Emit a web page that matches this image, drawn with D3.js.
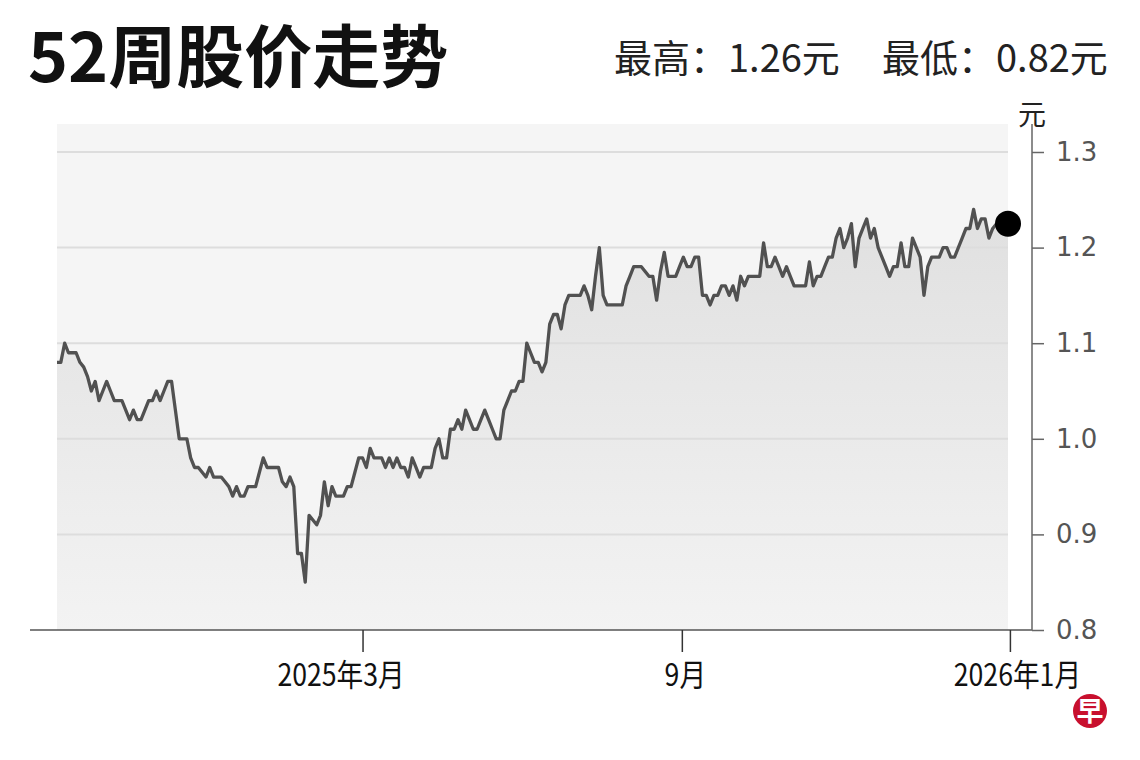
<!DOCTYPE html>
<html><head><meta charset="utf-8">
<script src="https://cdn.jsdelivr.net/npm/d3@7"></script>
<style>body{margin:0;background:#fff;} svg{display:block;}</style>
</head><body><svg id="c" width="1140" height="760"></svg>
<script>
const prices = [
1.08,1.08,1.10,1.09,1.09,1.09,1.08,1.075,1.065,1.05,
1.06,1.04,1.05,1.06,1.05,1.04,1.04,1.04,1.03,1.02,
1.03,1.02,1.02,1.03,1.04,1.04,1.05,1.04,1.05,1.06,
1.06,1.03,1.00,1.00,1.00,0.98,0.97,0.97,0.965,0.96,
0.97,0.96,0.96,0.96,0.955,0.95,0.94,0.95,0.94,0.94,
0.95,0.95,0.95,0.965,0.98,0.97,0.97,0.97,0.97,0.955,
0.95,0.96,0.95,0.88,0.88,0.85,0.92,0.915,0.91,0.92,
0.955,0.93,0.95,0.94,0.94,0.94,0.95,0.95,0.965,0.98,
0.98,0.97,0.99,0.98,0.98,0.98,0.97,0.98,0.97,0.98,
0.97,0.97,0.96,0.98,0.97,0.96,0.97,0.97,0.97,0.99,
1.00,0.98,0.98,1.01,1.01,1.02,1.01,1.03,1.02,1.01,
1.01,1.02,1.03,1.02,1.01,1.00,1.00,1.03,1.04,1.05,
1.05,1.06,1.06,1.10,1.09,1.08,1.08,1.07,1.08,1.12,
1.13,1.13,1.115,1.14,1.15,1.15,1.15,1.15,1.16,1.15,
1.135,1.17,1.20,1.15,1.14,1.14,1.14,1.14,1.14,1.16,
1.17,1.18,1.18,1.18,1.175,1.17,1.17,1.145,1.175,1.195,
1.17,1.17,1.17,1.18,1.19,1.18,1.18,1.19,1.19,1.15,
1.15,1.14,1.15,1.15,1.16,1.16,1.15,1.16,1.145,1.17,
1.16,1.17,1.17,1.17,1.17,1.205,1.18,1.18,1.19,1.18,
1.17,1.18,1.17,1.16,1.16,1.16,1.16,1.185,1.16,1.17,
1.17,1.18,1.19,1.19,1.21,1.22,1.20,1.21,1.225,1.18,
1.21,1.22,1.23,1.21,1.22,1.20,1.19,1.18,1.17,1.18,
1.18,1.205,1.18,1.18,1.21,1.20,1.19,1.15,1.18,1.19,
1.19,1.19,1.20,1.20,1.19,1.19,1.20,1.21,1.22,1.22,
1.24,1.22,1.23,1.23,1.21,1.22,1.225,1.22,1.225,1.225
];
const yTicks = [0.8, 0.9, 1.0, 1.1, 1.2, 1.3];
const xTickLabels = ["2025年3月", "9月", "2026年1月"];
const xTickIndex = [80, 163.6, 249.5];
const titleText = "52周股价走势";
const highText = "最高：1.26元";
const lowText = "最低：0.82元";
const unitText = "元";
const logoText = "早";

const svg = d3.select("#c");
const pLeft = 57, pRight = 1008, pTop = 124, pBottom = 630;
const axisX = 1032;
const labelShift = [-22, 3, 7];

const x = d3.scaleLinear().domain([0, prices.length - 1]).range([pLeft, pRight]);
const y = d3.scaleLinear().domain([0.8, 1.3]).range([pBottom, 152]);

const defs = svg.append("defs");
const grad = defs.append("linearGradient").attr("id", "g").attr("gradientUnits", "userSpaceOnUse")
  .attr("x1", 0).attr("x2", 0).attr("y1", y(1.24)).attr("y2", pBottom);
grad.append("stop").attr("offset", 0).attr("stop-color", "#e0e0e0");
grad.append("stop").attr("offset", 1).attr("stop-color", "#f3f3f3");

svg.append("rect").attr("x", pLeft).attr("y", pTop).attr("width", pRight - pLeft).attr("height", pBottom - pTop)
  .attr("fill", "#f5f5f5");

const area = d3.area().x((d, i) => x(i)).y0(pBottom).y1(d => y(d));
svg.append("path").datum(prices).attr("d", area).attr("fill", "url(#g)");

svg.append("g").selectAll("line").data(yTicks.filter(t => t > 0.8)).join("line")
  .attr("x1", pLeft).attr("x2", pRight).attr("y1", d => y(d)).attr("y2", d => y(d))
  .attr("stroke", "#dddddd").attr("stroke-width", 2);

const line = d3.line().x((d, i) => x(i)).y(d => y(d));
svg.append("path").datum(prices).attr("d", line).attr("fill", "none")
  .attr("stroke", "#515151").attr("stroke-width", 3.3).attr("stroke-linejoin", "round");

svg.append("circle").attr("cx", x(prices.length - 1)).attr("cy", y(prices[prices.length - 1]))
  .attr("r", 13).attr("fill", "#000");

svg.append("line").attr("x1", 30).attr("x2", axisX).attr("y1", pBottom).attr("y2", pBottom)
  .attr("stroke", "#555").attr("stroke-width", 1.5);
svg.append("line").attr("x1", axisX).attr("x2", axisX).attr("y1", pTop).attr("y2", pBottom)
  .attr("stroke", "#666").attr("stroke-width", 1.5);

const yAxis = d3.axisRight(y).tickValues(yTicks).tickSize(12).tickPadding(12).tickFormat(d3.format(".1f"));
const gy = svg.append("g").attr("transform", `translate(${axisX},0)`).call(yAxis);
gy.select(".domain").remove();
gy.selectAll(".tick line").attr("stroke", "#666").attr("stroke-width", 1.5);
gy.selectAll(".tick text").attr("fill", "#555").style("font-family", "DejaVu Sans").style("font-size", "26px");

svg.append("text").attr("x", axisX).attr("y", 125).attr("text-anchor", "middle")
  .style("font-family", "Noto Sans CJK SC").style("font-size", "28px").attr("fill", "#222").text(unitText);

const xAxis = d3.axisBottom(x).tickValues(xTickIndex).tickSize(22).tickPadding(12)
  .tickFormat((d, i) => xTickLabels[i]);
const gx = svg.append("g").attr("transform", `translate(0,${pBottom})`).call(xAxis);
gx.select(".domain").remove();
gx.selectAll(".tick line").attr("stroke", "#333").attr("stroke-width", 1.5);
gx.selectAll(".tick text").attr("fill", "#111").style("font-family", "Noto Sans CJK SC")
  .style("font-size", "31px").attr("transform", (d, i) => `translate(${labelShift[i]},0) scale(0.86,1)`);

svg.append("text").attr("x", 28).attr("y", 82).style("font-family", "Noto Sans CJK SC")
  .style("font-weight", 700).style("font-size", "68px").attr("fill", "#111").text(titleText);

svg.append("text").attr("x", 614).attr("y", 72).style("font-family", "Noto Sans CJK SC")
  .style("font-size", "38px").attr("fill", "#222").text(highText);
svg.append("text").attr("x", 882).attr("y", 72).style("font-family", "Noto Sans CJK SC")
  .style("font-size", "38px").attr("fill", "#222").text(lowText);

svg.append("circle").attr("cx", 1090).attr("cy", 711).attr("r", 17).attr("fill", "#c8102e");
svg.append("text").attr("x", 1090).attr("y", 721).attr("text-anchor", "middle")
  .style("font-family", "Noto Sans CJK SC").style("font-weight", 700).style("font-size", "27px")
  .attr("fill", "#fff").text(logoText);
</script></body></html>
